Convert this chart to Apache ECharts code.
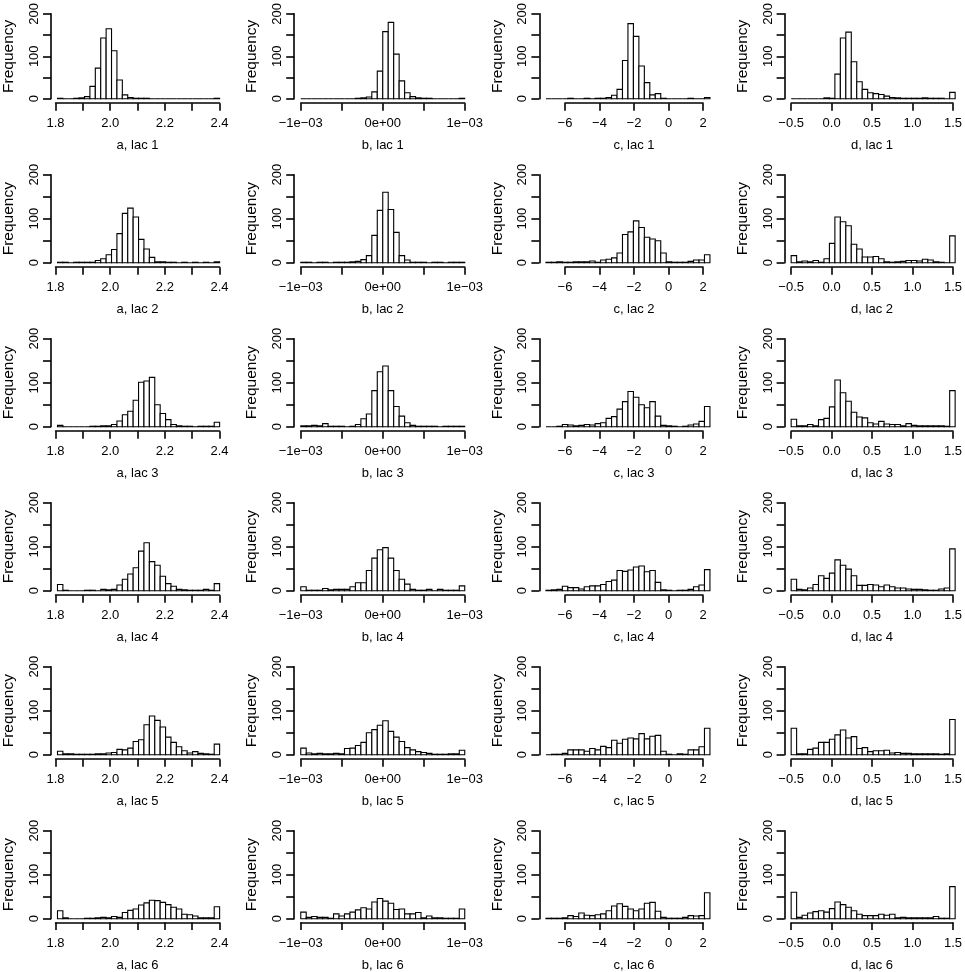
<!DOCTYPE html>
<html>
<head>
<meta charset="utf-8">
<script src="https://cdn.jsdelivr.net/npm/echarts@6/dist/echarts.min.js"></script>
<style>
  html, body { margin: 0; padding: 0; background: #fff; }
  #chart { width: 965px; height: 972px; }
</style>
</head>
<body>
<div id="chart"></div>
<script>
// bin counts, 30 equal bins per histogram, one array per lac (row)
const aCounts = [
  [1,0,0,1,2,5,29,72,143,165,113,44,9,3,1,1,1,0,0,0,0,0,0,0,0,0,0,0,0,1],
  [1,1,0,1,1,1,1,5,9,18,30,66,112,124,104,53,31,12,2,2,1,1,0,1,0,1,0,1,0,2],
  [3,0,0,0,0,0,1,1,2,2,5,13,27,35,60,101,104,112,50,30,16,5,2,1,1,0,1,1,1,10],
  [14,1,0,0,0,1,1,0,3,2,3,13,26,38,52,90,109,66,58,33,16,10,3,2,1,1,1,3,1,16],
  [8,2,2,1,1,1,1,2,2,4,5,12,11,15,30,34,68,88,78,63,40,28,18,9,4,7,3,2,1,24],
  [18,2,0,0,0,1,1,2,3,2,5,3,14,19,22,31,36,42,41,37,32,26,22,10,9,6,2,2,2,27]
];
const bCounts = [
  [0,0,0,0,0,0,0,0,0,0,1,2,4,16,65,158,180,105,42,14,5,2,1,1,0,0,0,0,0,1],
  [1,1,0,1,1,0,1,1,1,2,3,7,16,62,119,160,121,69,16,6,1,1,1,0,1,1,0,1,1,1],
  [2,2,3,2,7,1,1,1,0,1,5,18,29,82,125,138,82,46,24,9,3,1,1,1,1,0,1,1,1,1],
  [9,1,1,1,5,2,3,3,3,9,18,18,46,74,93,98,74,46,26,15,3,1,1,3,0,3,1,1,1,11],
  [15,4,2,3,2,2,3,2,14,15,21,28,50,57,67,77,53,40,30,16,11,7,5,3,1,1,1,2,2,10],
  [15,3,5,3,3,1,11,6,11,15,20,25,22,38,46,40,35,21,22,11,11,14,2,6,2,2,1,1,1,22]
];
const cCounts = [
  [0,0,0,0,1,0,0,1,0,1,1,3,8,22,90,177,147,77,38,9,12,1,0,0,0,0,1,0,0,3],
  [1,1,2,1,1,2,2,2,4,1,6,8,11,22,64,70,95,80,58,54,50,22,2,1,1,1,3,6,6,18],
  [0,0,1,5,4,2,3,5,4,7,9,19,23,40,57,80,67,50,43,57,24,3,2,1,0,1,4,6,12,46],
  [1,2,3,10,7,7,4,9,11,11,14,21,24,46,44,47,54,56,43,46,19,2,1,0,1,1,3,9,13,48],
  [0,1,1,3,11,11,11,8,14,11,19,16,33,26,35,38,36,48,36,42,44,8,1,0,2,1,11,11,18,60],
  [1,1,1,2,7,5,13,8,7,9,11,18,29,34,28,22,18,22,35,37,17,3,1,1,1,3,7,6,7,59]
];
const dCounts = [
  [0,0,0,0,0,0,2,1,58,143,157,87,40,22,14,12,10,6,3,2,1,1,1,1,2,1,1,1,0,15],
  [16,2,4,2,5,1,9,44,104,93,84,42,31,13,13,14,9,2,1,2,3,5,5,4,8,6,2,1,0,61],
  [17,2,2,5,2,16,19,45,106,77,58,33,22,20,9,6,12,6,5,5,2,7,3,2,2,2,2,2,1,82],
  [26,3,2,6,14,34,28,40,70,58,49,34,12,12,14,13,9,13,9,6,6,4,3,3,2,1,1,4,6,95],
  [60,2,2,12,15,28,28,35,45,56,38,41,14,16,7,9,9,10,4,5,3,3,2,2,2,2,2,1,2,80],
  [60,3,8,13,16,18,15,23,38,32,26,18,10,7,7,7,10,8,10,2,3,2,2,2,2,2,5,1,1,73]
];

const paramNames = ['a', 'b', 'c', 'd'];
const counts = { a: aCounts, b: bCounts, c: cCounts, d: dCounts };
// break limits of the histograms
const binRange = { a: [1.8, 2.4], b: [-1e-3, 1e-3], c: [-7.1, 2.4], d: [-0.5, 1.5] };
// first tick, last tick, tick step of the x axes
const xTicks = { a: [1.8, 2.4, 0.1], b: [-1e-3, 1e-3, 5e-4], c: [-6, 2, 2], d: [-0.5, 1.5, 0.5] };
const yTicks = [0, 200, 50];

const MINUS = '\u2212';
function minus(s) { return s.replace('-', MINUS); }

const xFormat = {
  a: v => (Math.round(v * 10) % 2 === 0 ? v.toFixed(1) : ''),
  b: v => {
    const k = Math.round(v / 5e-4);
    if (k % 2 !== 0) return '';
    if (k === 0) return '0e+00';
    return (k < 0 ? MINUS : '') + '1e' + MINUS + '03';
  },
  c: v => minus(String(Math.round(v))),
  d: v => minus((Math.round(v * 10) / 10).toFixed(1))
};

// layout
const colX0 = 49, colStep = 245.2, plotW = 177.1;
const rowY0 = 10.7, rowStep = 164, plotH = 88;
const axisDrop = 4.5;

const FONT = 'Liberation Sans';
const txt = { fontFamily: FONT, fontSize: 13, color: '#000' };
const ylab = { fontFamily: FONT, fontSize: 15.5, color: '#000' };
const line = { color: '#000', width: 1.6 };

const grid = [], xAxis = [], yAxis = [], series = [];

function renderBar(params, api) {
  const p0 = api.coord([api.value(0), 0]);
  const p1 = api.coord([api.value(1), api.value(2)]);
  return {
    type: 'rect',
    shape: { x: p0[0], y: p1[1], width: p1[0] - p0[0], height: p0[1] - p1[1] },
    style: { fill: '#fff', stroke: '#000', lineWidth: 1.1 }
  };
}

for (let r = 0; r < 6; r++) {
  paramNames.forEach((p, k) => {
    const [lo, hi] = binRange[p];
    const pad = 0.04 * (hi - lo);
    const left = colX0 + k * colStep;
    const top = rowY0 + r * rowStep;
    const scale = plotW / (hi - lo + 2 * pad);

    // plot region: bars and y axis
    const gi = grid.length;
    grid.push({ left: left, top: top, width: plotW, height: plotH });
    xAxis.push({ gridIndex: gi, type: 'value', min: lo - pad, max: hi + pad, show: false });
    yAxis.push({
      gridIndex: gi, type: 'value', min: yTicks[0], max: yTicks[1], interval: yTicks[2],
      axisLine: { show: true, onZero: false, lineStyle: line },
      axisTick: { show: true, length: 8, lineStyle: line },
      axisLabel: {
        ...txt, rotate: 90, margin: 10, hideOverlap: false,
        formatter: v => (v % 100 === 0 ? String(v) : '')
      },
      splitLine: { show: false },
      name: 'Frequency', nameLocation: 'middle', nameRotate: 90, nameGap: 34,
      nameTextStyle: ylab
    });

    const w = (hi - lo) / counts[p][r].length;
    series.push({
      type: 'custom', xAxisIndex: gi, yAxisIndex: gi,
      renderItem: renderBar,
      encode: { x: [0, 1], y: 2 },
      data: counts[p][r].map((n, i) => [lo + i * w, lo + (i + 1) * w, n])
    });

    // x axis, spanning first to last tick like R
    const [t0, t1, step] = xTicks[p];
    const px0 = left + (t0 - (lo - pad)) * scale;
    const px1 = left + (t1 - (lo - pad)) * scale;
    const ai = grid.length;
    grid.push({ left: px0, top: top + plotH + axisDrop - 1, width: px1 - px0, height: 1 });
    xAxis.push({
      gridIndex: ai, type: 'value', min: t0, max: t1, interval: step, position: 'bottom',
      axisLine: { show: true, onZero: false, lineStyle: line },
      axisTick: { show: true, length: 7.5, lineStyle: line },
      axisLabel: { ...txt, margin: 14, hideOverlap: false, showMinLabel: true, showMaxLabel: true, formatter: xFormat[p] },
      splitLine: { show: false },
      name: p + ', lac ' + (r + 1), nameLocation: 'middle', nameGap: 36,
      nameTextStyle: txt
    });
    yAxis.push({ gridIndex: ai, type: 'value', min: 0, max: 1, show: false });
  });
}

const chart = echarts.init(document.getElementById('chart'), null, { renderer: 'canvas' });
chart.setOption({
  backgroundColor: '#fff',
  animation: false,
  textStyle: { fontFamily: FONT },
  grid: grid,
  xAxis: xAxis,
  yAxis: yAxis,
  series: series
});
</script>
</body>
</html>
